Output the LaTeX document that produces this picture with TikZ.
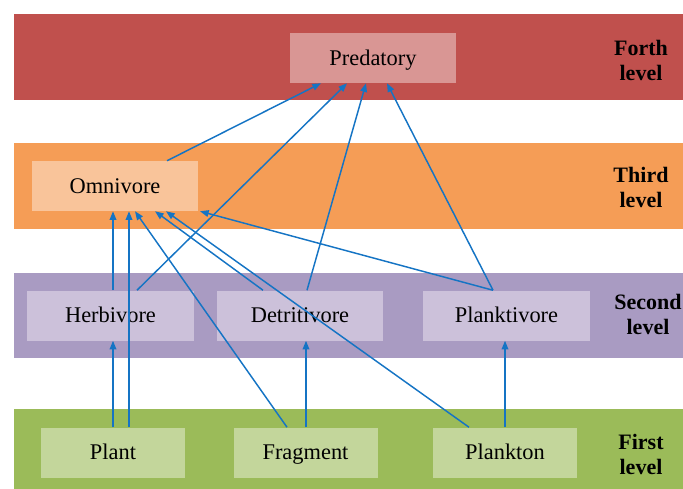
\documentclass[tikz,border=0pt]{standalone}
\usepackage{fontspec}
\setmainfont{Liberation Serif}
\usetikzlibrary{arrows.meta}
\definecolor{redband}{HTML}{C0504D}
\definecolor{redbox}{HTML}{D99694}
\definecolor{orangeband}{HTML}{F59D56}
\definecolor{orangebox}{HTML}{F9C49A}
\definecolor{purpleband}{HTML}{A99BC2}
\definecolor{purplebox}{HTML}{CCC1DA}
\definecolor{greenband}{HTML}{9BBB59}
\definecolor{greenbox}{HTML}{C3D69B}
\definecolor{linkblue}{HTML}{1574C4}

\begin{document}
\begin{tikzpicture}[x=0.75pt, y=-0.75pt,
	box/.style={inner sep=0pt, minimum height=37.5pt, text height=11pt, text depth=0pt,
		font=\fontsize{16.8}{19}\selectfont},
	wide/.style={box, minimum width=125pt},
	narrow/.style={box, minimum width=108pt},
	level/.style={align=center, font=\fontsize{16.5}{18.75}\selectfont\bfseries},
	link/.style={draw=linkblue, line width=1.1pt, -{Triangle[length=6.5pt,width=5pt]}}]
\useasboundingbox (0,0) rectangle (683,489);
\clip (0,0) rectangle (683,489);

% LEVEL BANDS
	\fill [redband] (14,14) rectangle (690,100);
	\fill [orangeband] (14,143) rectangle (690,229);
	\fill [purpleband] (14,273) rectangle (690,358);
	\fill [greenband] (14,409) rectangle (690,495);

	\node [level] (forth) at (641,60) {Forth\\level};
	\node [level] (third) at (641,187) {Third\\level};
	\node [level] (second) at (648,314) {Second\\level};
	\node [level] (first) at (641,454) {First\\level};

% BOXES
	\node [wide, fill=redbox] (pred) at (373,58) {Predatory};
	\node [wide, fill=orangebox] (omni) at (115,186) {Omnivore};

	\node [wide, fill=purplebox] (herb) at (110.5,315.5) {Herbivore};
	\node [wide, fill=purplebox] (detr) at (300,315.5) {Detritivore};
	\node [wide, fill=purplebox] (plkv) at (506.5,315.5) {Planktivore};

	\node [narrow, fill=greenbox] (plant) at (113,452.5) {Plant};
	\node [narrow, fill=greenbox] (frag) at (305.5,452.5) {Fragment};
	\node [narrow, fill=greenbox] (plkn) at (505,452.5) {Plankton};

% LINKS TO PREDATORY
	\draw [link] (omni.north -| 167,0) -- (pred.south -| 321,0);
	\draw [link] (herb.north -| 137,0) -- (pred.south -| 347,0);
	\draw [link] (detr.north -| 307,0) -- (pred.south -| 366,0);
	\draw [link] (plkv.north -| 493,0) -- (pred.south -| 387,0);

% LINKS TO OMNIVORE
	\draw [link] (plkv.north -| 493,0) -- (omni.south -| 200,0);
	\draw [link] (herb.north -| 113,0) -- (omni.south -| 113,0);
	\draw [link] (plant.north -| 129,0) -- (omni.south -| 129,0);
	\draw [link] (frag.north -| 287,0) -- (omni.south -| 135,0);
	\draw [link] (detr.north -| 263,0) -- (omni.south -| 155,0);
	\draw [link] (plkn.north -| 469,0) -- (omni.south -| 166,0);

% LINKS TO SECOND LEVEL
	\draw [link] (plant.north -| 113,0) -- (herb.south -| 113,0);
	\draw [link] (frag.north -| 306,0) -- (detr.south -| 306,0);
	\draw [link] (plkn.north -| 505,0) -- (plkv.south -| 505,0);

\end{tikzpicture}
\end{document}
